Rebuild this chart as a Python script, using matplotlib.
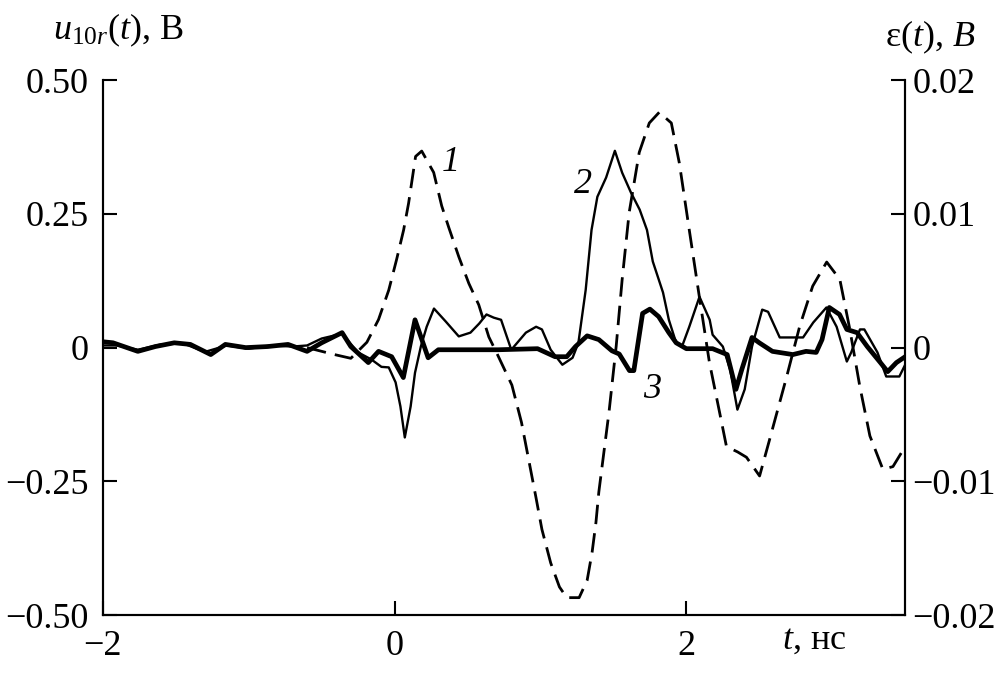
import matplotlib
matplotlib.use("Agg")
import matplotlib.pyplot as plt

plt.rcParams['font.family'] = ['Liberation Serif', 'DejaVu Serif']
plt.rcParams['mathtext.fontset'] = 'custom'
plt.rcParams['mathtext.rm'] = 'Liberation Serif'
plt.rcParams['mathtext.it'] = 'Liberation Serif:italic'

# curve 1 (dashed), right axis, eps(t), B
t1 = [-0.6, -0.42, -0.30, -0.19, -0.11, -0.04, 0.014, 0.062, 0.096, 0.144, 0.186, 0.268,
      0.323, 0.371, 0.44, 0.509, 0.577, 0.646, 0.70, 0.804, 0.87, 0.969, 1.01, 1.07, 1.13,
      1.18, 1.265, 1.32, 1.354, 1.38, 1.40, 1.47, 1.519, 1.56, 1.608, 1.677, 1.746, 1.814,
      1.897, 1.952, 2.02, 2.089, 2.158, 2.227, 2.275, 2.351, 2.412, 2.502, 2.57, 2.687,
      2.777, 2.866, 2.962, 3.052, 3.12, 3.189, 3.258, 3.347, 3.416, 3.5]
eps1 = [0.0, -0.0005, -0.0008, 0.0004, 0.0021, 0.0043, 0.0066, 0.0088, 0.0108, 0.0143,
        0.0147, 0.0131, 0.0106, 0.0090, 0.0068, 0.0048, 0.0032, 0.0008, -0.0004, -0.0028,
        -0.0056, -0.0112, -0.0136, -0.0161, -0.0179, -0.0187, -0.0187, -0.0174, -0.0153,
        -0.0131, -0.0108, -0.0048, 0.0001, 0.0051, 0.0101, 0.0146, 0.0168, 0.0176, 0.0168,
        0.0138, 0.0088, 0.0038, -0.0011, -0.0048, -0.0074, -0.0078, -0.0082, -0.0096,
        -0.0069, -0.0022, 0.0016, 0.0046, 0.0064, 0.0051, 0.0014, -0.0029, -0.0066,
        -0.0091, -0.0089, -0.0074]

# curve 2 (thin), left axis, u10r(t), B
t2 = [-2.0, -1.9, -1.76, -1.6, -1.45, -1.3, -1.15, -1.0, -0.85, -0.7, -0.6, -0.5, -0.36,
      -0.25, -0.16, -0.09, -0.04, 0.007, 0.04, 0.07, 0.11, 0.14, 0.18, 0.22, 0.27, 0.35,
      0.44, 0.52, 0.58, 0.63, 0.68, 0.73, 0.80, 0.90, 0.97, 1.01, 1.07, 1.15, 1.22, 1.26,
      1.31, 1.35, 1.39, 1.45, 1.51, 1.56, 1.62, 1.68, 1.73, 1.77, 1.84, 1.88, 1.93, 1.97,
      2.02, 2.09, 2.16, 2.18, 2.25, 2.30, 2.35, 2.40, 2.45, 2.52, 2.56, 2.64, 2.73, 2.80,
      2.87, 2.96, 3.03, 3.10, 3.13, 3.19, 3.22, 3.31, 3.37, 3.46, 3.5]
u2 = [0.004, 0.004, -0.004, 0.006, 0.008, -0.008, 0.004, -0.002, 0.004, 0.002, 0.004,
      0.017, 0.026, -0.009, -0.022, -0.036, -0.037, -0.065, -0.11, -0.168, -0.11, -0.047,
      0.002, 0.039, 0.073, 0.049, 0.021, 0.028, 0.045, 0.062, 0.056, 0.052, -0.004, 0.028,
      0.039, 0.034, -0.004, -0.032, -0.019, 0.009, 0.108, 0.22, 0.282, 0.318, 0.368, 0.327,
      0.29, 0.258, 0.22, 0.161, 0.103, 0.052, 0.009, 0.002, 0.039, 0.095, 0.052, 0.024,
      0.002, -0.041, -0.116, -0.078, 0.002, 0.071, 0.067, 0.019, 0.019, 0.019, 0.047,
      0.075, 0.039, -0.026, -0.009, 0.034, 0.034, -0.009, -0.054, -0.054, -0.032]

# curve 3 (thick), left axis
t3 = [-2.0, -1.93, -1.76, -1.64, -1.51, -1.40, -1.26, -1.16, -1.02, -0.87, -0.73, -0.60,
      -0.50, -0.36, -0.30, -0.18, -0.11, -0.02, 0.06, 0.14, 0.23, 0.30, 0.71, 0.98, 1.10,
      1.18, 1.24, 1.32, 1.40, 1.49, 1.54, 1.61, 1.64, 1.70, 1.75, 1.81, 1.88, 1.93, 2.0,
      2.18, 2.28, 2.34, 2.38, 2.45, 2.50, 2.59, 2.73, 2.82, 2.89, 2.93, 2.98, 3.05, 3.10,
      3.17, 3.24, 3.33, 3.38, 3.44, 3.5]
u3 = [0.011, 0.009, -0.007, 0.002, 0.009, 0.006, -0.013, 0.006, 0.0, 0.002, 0.006,
      -0.007, 0.009, 0.028, 0.002, -0.028, -0.007, -0.017, -0.056, 0.052, -0.019, -0.004,
      -0.004, -0.002, -0.017, -0.017, 0.002, 0.022, 0.015, -0.006, -0.012, -0.043, -0.043,
      0.064, 0.072, 0.058, 0.028, 0.009, -0.002, -0.002, -0.013, -0.078, -0.041, 0.019,
      0.009, -0.007, -0.013, -0.007, -0.009, 0.015, 0.075, 0.062, 0.034, 0.028, 0.002,
      -0.028, -0.045, -0.028, -0.017]

fig = plt.figure(figsize=(10.08, 6.74), dpi=100)
ax = fig.add_axes([0.102, 0.0875, 0.796, 0.7935])
ax2 = ax.twinx()

ax.plot(t2, u2, color='black', lw=1.7)
ax.plot(t3, u3, color='black', lw=3.4)
ln, = ax2.plot(t1, eps1, color='black', lw=2.0)
ln.set_dashes((7, 3.3))

ax.set_xlim(-2, 3.5)
ax.set_ylim(-0.5, 0.5)
ax2.set_ylim(-0.02, 0.02)
ax.set_xticks([-2, 0, 2])
ax.set_yticks([-0.5, -0.25, 0, 0.25, 0.5])
ax.set_yticklabels(['\u22120.50', '\u22120.25', '0', '0.25', '0.50'])
ax2.set_yticks([-0.02, -0.01, 0, 0.01, 0.02])
ax2.set_yticklabels(['\u22120.02', '\u22120.01', '0', '0.01', '0.02'])
ax.set_xticklabels(['\u22122', '0', '2'])

for a in (ax, ax2):
    a.spines['top'].set_visible(False)
    for s in a.spines.values():
        s.set_linewidth(1.5)
    a.tick_params(direction='in', length=10, width=1.5, labelsize=26, pad=5)
ax.tick_params(axis='y', pad=10)
ax.tick_params(axis='x', pad=11)

ax.text(0.32, 0.33, '1', fontsize=26, style='italic')
ax.text(1.23, 0.29, '2', fontsize=26, style='italic')
ax.text(1.70, -0.095, '3', fontsize=26, style='italic')

fig.text(0.053, 0.955, r'$u_{10r}(t)$, B', fontsize=26, va='center')
fig.text(0.968, 0.945, r'ε$(t)$, $B$', fontsize=26, va='center', ha='right')
fig.text(0.776, 0.05, r'$t$, нс', fontsize=26, va='center')

fig.savefig('out.png', dpi=100)
